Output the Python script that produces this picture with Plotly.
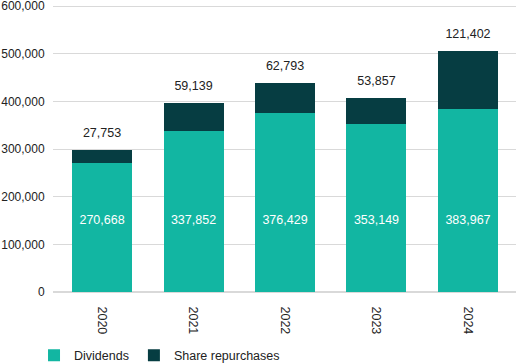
import plotly.graph_objects as go

years = ["2020", "2021", "2022", "2023", "2024"]
dividends = [270668, 337852, 376429, 353149, 383967]
repurchases = [27753, 59139, 62793, 53857, 121402]
y_ticks = [0, 100000, 200000, 300000, 400000, 500000, 600000]

TEAL = "#12B6A2"
DARK = "#063D42"
FONT = "Liberation Sans, Arial, sans-serif"
INSIDE_LABEL_Y = 150000

totals = [d + r for d, r in zip(dividends, repurchases)]

fig = go.Figure()
fig.add_trace(go.Bar(x=years, y=dividends, name="Dividends", marker_color=TEAL,
                     marker_line_width=0, hoverinfo="skip"))
fig.add_trace(go.Bar(x=years, y=repurchases, name="Share repurchases", marker_color=DARK,
                     marker_line_width=0, hoverinfo="skip"))
fig.add_trace(go.Scatter(x=years, y=[INSIDE_LABEL_Y] * len(years), mode="text",
                         text=[f"{d:,}" for d in dividends], textposition="middle center",
                         textfont=dict(color="white", size=12.5, family=FONT),
                         showlegend=False, hoverinfo="skip"))
fig.add_trace(go.Scatter(x=years, y=totals, mode="markers+text",
                         marker=dict(size=14, color="rgba(0,0,0,0)"),
                         text=[f"{r:,}" for r in repurchases], textposition="top center",
                         textfont=dict(color="#222222", size=12.5, family=FONT),
                         showlegend=False, hoverinfo="skip", cliponaxis=False))

fig.update_layout(
    width=516, height=364,
    barmode="stack", bargap=0.344,
    margin=dict(l=53, r=0, t=0, b=72, autoexpand=False),
    plot_bgcolor="white", paper_bgcolor="white",
    font=dict(family=FONT, size=12, color="#222222"),
    showlegend=True,
    legend=dict(orientation="h", x=-0.041, xanchor="left", y=-0.218, yanchor="middle",
                font=dict(size=12.5, color="#222222"), traceorder="normal"),
    xaxis=dict(type="category", range=[-0.536, 4.525], tickangle=90, showgrid=False,
               showline=False, ticks="outside", ticklen=11, tickcolor="rgba(0,0,0,0)",
               tickfont=dict(size=12.5)),
    yaxis=dict(range=[0, 613000], tickvals=y_ticks,
               ticktext=[f"{v:,}" for v in y_ticks], showgrid=True,
               gridcolor="#D9D9D9", gridwidth=1, zeroline=True, zerolinecolor="#D9D9D9",
               showline=False, ticks="outside", ticklen=5, tickcolor="rgba(0,0,0,0)",
               tickfont=dict(size=12), ticklabeloverflow="allow"),
)

fig.write_html("out.html", config={"displayModeBar": False},
               post_script="document.body.style.margin='0';document.body.style.padding='0';")
